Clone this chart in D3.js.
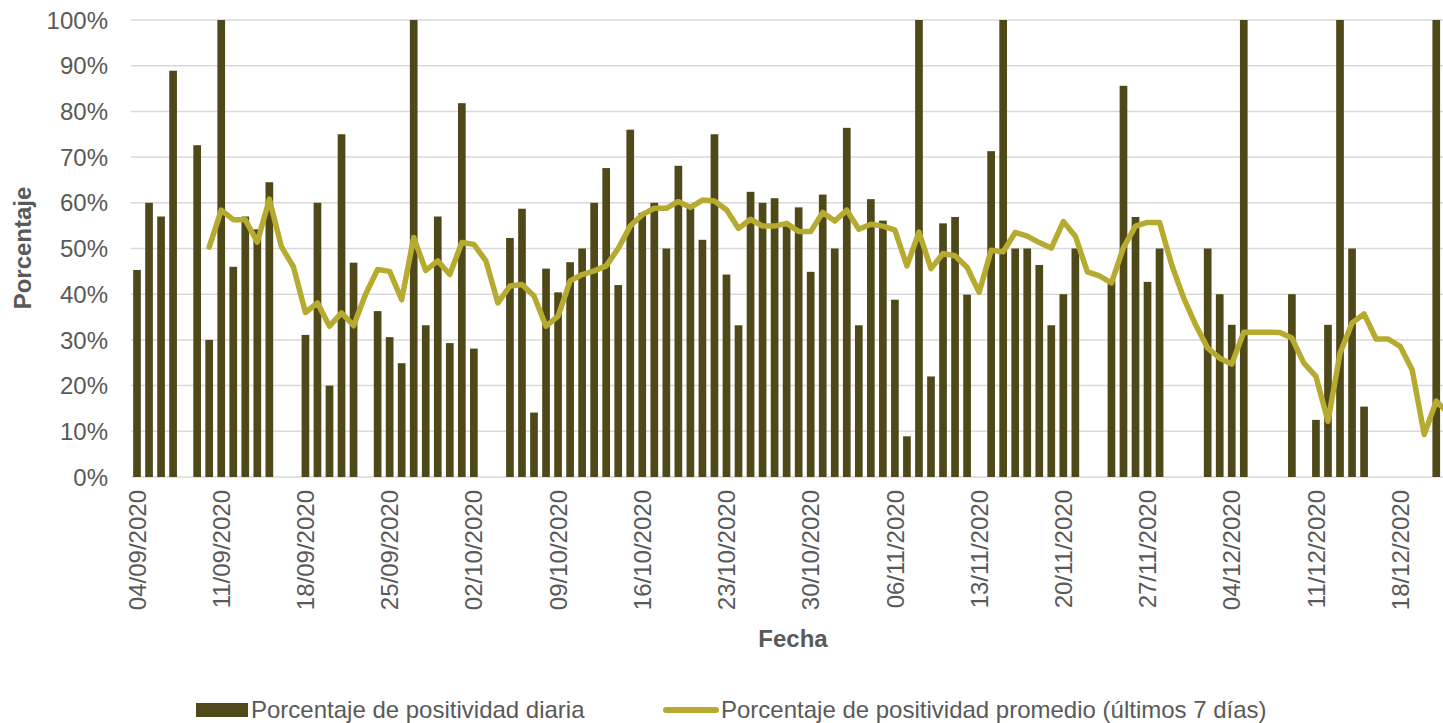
<!DOCTYPE html>
<html><head><meta charset="utf-8">
<script src="https://cdn.jsdelivr.net/npm/d3@7"></script>
<style>body{margin:0;background:#fff}svg{display:block}</style>
</head><body><svg id="c" width="1443" height="723"></svg>
<script>
const startDate = new Date(2020, 8, 4);
const dayCount = 110;
const dailyPct = [45.3,60,57,88.9,null,72.6,30,100,46,57,54.2,64.5,null,null,31.1,60,20,75,46.9,null,
  36.3,30.6,24.9,100,33.2,57,29.3,81.8,28.1,null,null,52.3,58.7,14.1,45.6,40.4,47,50,60,67.6,
  42,76,57.8,60,50,68.1,59,51.9,75,44.3,33.2,62.4,60,61,55.6,59,44.9,61.8,50,76.4,
  33.2,60.8,56.1,38.8,8.9,100,22,55.5,56.9,39.9,null,71.3,100,50,50,46.4,33.2,40,50,null,
  null,43,85.6,56.9,42.7,50,null,null,null,50,40,33.3,100,null,null,null,40,null,12.5,33.3,
  100,50,15.4,null,null,null,null,null,100,null];
const avgPct = [null,null,null,null,null,null,50.3,58.4,56.3,56.3,51.4,60.8,50.4,46,36,38.1,33,35.9,33.1,40,
  45.4,45,38.8,52.4,45.2,47.3,44.3,51.3,50.9,47.3,38.1,41.8,42.1,39.6,33,35.2,42.9,44.3,45.1,46.2,
  50,54.9,57.4,58.8,58.8,60.3,59,60.6,60.4,58.5,54.4,56.4,54.9,54.9,55.5,53.7,53.7,57.9,56,58.4,
  54.2,55.3,54.9,54,46.2,53.6,45.6,48.9,48.4,45.9,40.4,49.6,49.3,53.5,52.7,51.3,50.1,55.9,52.7,44.9,
  44,42.5,50.2,54.9,55.7,55.7,46.5,39.2,33.3,28.2,26,24.7,31.7,31.7,31.7,31.6,30.4,24.9,22,12.2,
  27.1,33.7,35.7,30.2,30.2,28.6,23.4,9.3,16.6,14];
const yTicks = [0,10,20,30,40,50,60,70,80,90,100];
const xTickEvery = 7;
const seriesNames = ["Porcentaje de positividad diaria","Porcentaje de positividad promedio (últimos 7 días)"];

const days = d3.range(dayCount).map(i => d3.timeDay.offset(startDate, i));
const fmt = d3.timeFormat("%d/%m/%Y");
const W = 1443, H = 723;
const plotL = 131, plotT = 20, plotB = 477;
const barColor = "#4f4919", lineColor = "#b6aa31", textColor = "#595959", gridColor = "#d9d9d9";
const font = "'Liberation Sans', Arial, Helvetica, sans-serif";

const svg = d3.select("#c");
const x = d3.scaleBand().domain(d3.range(dayCount)).range([plotL, plotL + dayCount * 12.03]).paddingInner(0.36).paddingOuter(0.18);
const y = d3.scaleLinear().domain([0, 100]).range([plotB, plotT]);

// grid
svg.append("g").selectAll("line").data(yTicks).join("line")
  .attr("x1", plotL).attr("x2", W).attr("y1", d => y(d)).attr("y2", d => y(d))
  .attr("stroke", gridColor).attr("stroke-width", 1.5);

// y axis labels
const yAxis = d3.axisLeft(y).tickValues(yTicks).tickFormat(d => d + "%").tickSize(0).tickPadding(0);
const yg = svg.append("g").attr("transform", `translate(${plotL - 23},0)`).call(yAxis);
yg.select(".domain").remove();
yg.selectAll("text").attr("font-family", font).attr("font-size", 24).attr("fill", textColor).attr("dy", "0.34em");

// bars
const barData = dailyPct.map((v, i) => ({i, v})).filter(d => d.v != null);
svg.append("g").selectAll("rect").data(barData).join("rect")
  .attr("x", d => x(d.i)).attr("width", x.bandwidth())
  .attr("y", d => y(d.v)).attr("height", d => y(0) - y(d.v))
  .attr("fill", barColor);

// line
const lineData = avgPct.map((v, i) => ({i, v})).filter(d => d.v != null);
svg.append("path").datum(lineData)
  .attr("d", d3.line().x(d => x(d.i) + x.bandwidth() / 2).y(d => y(d.v)))
  .attr("fill", "none").attr("stroke", lineColor).attr("stroke-width", 5.5)
  .attr("stroke-linejoin", "round").attr("stroke-linecap", "round");

// x axis
const xTickVals = d3.range(0, 109, xTickEvery);
const xAxis = d3.axisBottom(x).tickValues(xTickVals).tickFormat(i => fmt(days[i])).tickSize(0).tickPadding(0);
const xg = svg.append("g").attr("transform", `translate(0,${plotB})`).call(xAxis);
xg.select(".domain").remove();
xg.selectAll("text").attr("font-family", font).attr("font-size", 24).attr("fill", textColor)
  .attr("text-anchor", "end").attr("transform", "translate(0,13) rotate(-90)").attr("dx", 0).attr("dy", "0.36em").attr("y", 0).attr("x", 0);

// axis titles
svg.append("text").attr("x", 793).attr("y", 647).attr("text-anchor", "middle")
  .attr("font-family", font).attr("font-size", 24).attr("font-weight", "bold").attr("fill", textColor).text("Fecha");
svg.append("text").attr("transform", "translate(31,248) rotate(-90)").attr("text-anchor", "middle")
  .attr("font-family", font).attr("font-size", 24).attr("font-weight", "bold").attr("fill", textColor).text("Porcentaje");

// legend
const lg = svg.append("g");
lg.append("rect").attr("x", 196).attr("y", 703).attr("width", 52).attr("height", 14).attr("fill", barColor);
lg.append("text").attr("x", 251).attr("y", 718).attr("font-family", font).attr("font-size", 24).attr("fill", textColor).text(seriesNames[0]);
lg.append("line").attr("x1", 666).attr("x2", 716).attr("y1", 710).attr("y2", 710)
  .attr("stroke", lineColor).attr("stroke-width", 6).attr("stroke-linecap", "round");
lg.append("text").attr("x", 721).attr("y", 718).attr("font-family", font).attr("font-size", 24).attr("fill", textColor).text(seriesNames[1]);
</script></body></html>
